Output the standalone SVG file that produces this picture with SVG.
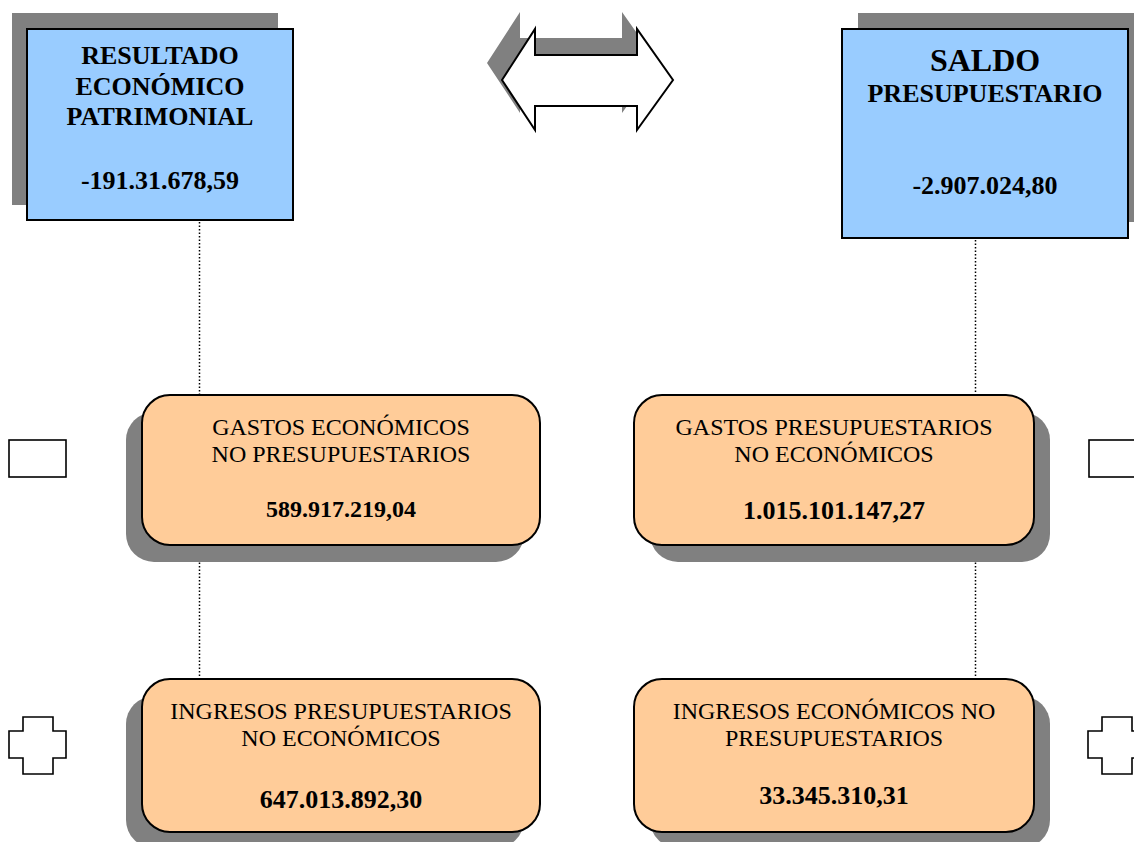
<svg xmlns="http://www.w3.org/2000/svg" width="1134" height="842" viewBox="0 0 1134 842">
<style>
.sh{fill:#808080;stroke:none}
.blue{fill:#99CCFF;stroke:#000;stroke-width:2}
.org{fill:#FFCC99;stroke:#000;stroke-width:2}
.sym{fill:#fff;stroke:#000;stroke-width:1.6}
.conn{stroke:#000;stroke-width:1.5;stroke-dasharray:1.5 2;fill:none}
text{font-family:"Liberation Serif","Times New Roman",serif;text-anchor:middle;fill:#000}
.b{font-weight:bold}
.t26{font-size:26px}
.t24{font-size:24px}
.t32{font-size:32px}
</style>
<rect width="1134" height="842" fill="#fff"/>
<g id="connectors">
<line class="conn" x1="199.5" y1="222" x2="199.5" y2="395"/>
<line class="conn" x1="199.5" y1="545" x2="199.5" y2="679"/>
<line class="conn" x1="975.5" y1="240" x2="975.5" y2="395"/>
<line class="conn" x1="975.5" y1="545" x2="975.5" y2="679"/>
</g>
<g id="resultado">
<rect class="sh" x="12" y="13" width="266" height="192"/>
<rect class="blue" x="27" y="29" width="266" height="191"/>
<text class="b t26" x="160" y="64">RESULTADO</text>
<text class="b t26" x="160" y="95">ECONÓMICO</text>
<text class="b t26" x="160" y="125">PATRIMONIAL</text>
<text class="b t26" x="160" y="189">-191.31.678,59</text>
</g>
<g id="arrow">
<polygon class="sh" points="487,63 520,12 520,38 622,38 622,12 658,63 622,113 622,89 520,89 520,113"/>
<polygon fill="#fff" stroke="#000" stroke-width="2" points="502,80 535,29 535,55 637,55 637,29 673,80 637,130 637,106 535,106 535,130"/>
</g>
<g id="saldo">
<rect class="sh" x="858" y="13" width="286" height="209"/>
<rect class="blue" x="842" y="29" width="286" height="209"/>
<text class="b t32" x="985" y="71">SALDO</text>
<text class="b t26" x="985" y="102">PRESUPUESTARIO</text>
<text class="b t26" x="985" y="194">-2.907.024,80</text>
</g>
<g id="gastos-economicos">
<rect class="sh" x="126" y="412" width="398" height="150" rx="28"/>
<rect class="org" x="142" y="395" width="398" height="150" rx="28"/>
<text class="t24" x="341" y="435">GASTOS ECONÓMICOS</text>
<text class="t24" x="341" y="462">NO PRESUPUESTARIOS</text>
<text class="b t24" x="341" y="517">589.917.219,04</text>
</g>
<g id="gastos-presupuestarios">
<rect class="sh" x="650" y="412" width="400" height="150" rx="28"/>
<rect class="org" x="634" y="395" width="400" height="150" rx="28"/>
<text class="t24" x="834" y="435">GASTOS PRESUPUESTARIOS</text>
<text class="t24" x="834" y="462">NO ECONÓMICOS</text>
<text class="b t26" x="834" y="519">1.015.101.147,27</text>
</g>
<g id="ingresos-presupuestarios">
<rect class="sh" x="126" y="696" width="398" height="152" rx="28"/>
<rect class="org" x="142" y="679" width="398" height="153" rx="28"/>
<text class="t24" x="341" y="719">INGRESOS PRESUPUESTARIOS</text>
<text class="t24" x="341" y="746">NO ECONÓMICOS</text>
<text class="b t26" x="341" y="808">647.013.892,30</text>
</g>
<g id="ingresos-economicos">
<rect class="sh" x="650" y="696" width="400" height="152" rx="28"/>
<rect class="org" x="634" y="679" width="400" height="153" rx="28"/>
<text class="t24" x="834" y="719">INGRESOS ECONÓMICOS NO</text>
<text class="t24" x="834" y="746">PRESUPUESTARIOS</text>
<text class="b t26" x="834" y="804">33.345.310,31</text>
</g>
<g id="minus-left">
<rect class="sym" x="9" y="440" width="57" height="37"/>
</g>
<g id="minus-right">
<rect class="sym" x="1089" y="440" width="57" height="37"/>
</g>
<g id="plus-left">
<polygon class="sym" points="23,717 53,717 53,731 66,731 66,758 53,758 53,774 23,774 23,758 9,758 9,731 23,731"/>
</g>
<g id="plus-right">
<polygon class="sym" points="1102,717 1132,717 1132,731 1146,731 1146,758 1132,758 1132,774 1102,774 1102,758 1088,758 1088,731 1102,731"/>
</g>
</svg>
